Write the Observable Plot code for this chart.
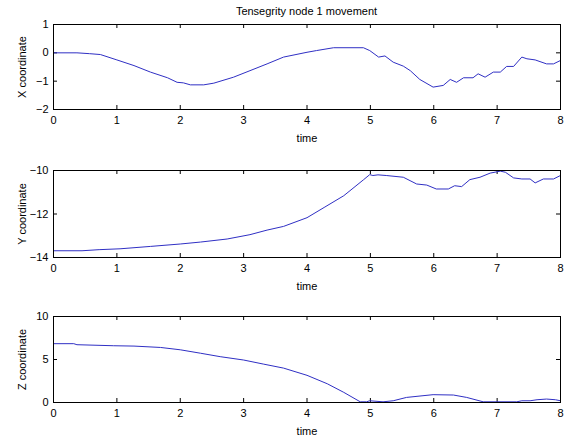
<!DOCTYPE html>
<html>
<head>
<meta charset="utf-8">
<script src="https://cdn.jsdelivr.net/npm/d3@7"></script>
<script src="https://cdn.jsdelivr.net/npm/@observablehq/plot@0.6"></script>
<style>
  html, body { margin: 0; padding: 0; background: #fff; }
  #wrap { position: relative; width: 566px; height: 438px; font-family: "Liberation Sans", Arial, sans-serif; }
  .pnl { position: absolute; left: 0; }
  #title { position: absolute; left: 53px; width: 507px; top: 5px; text-align: center; font-size: 11px; color: #000; }
</style>
</head>
<body>
<div id="wrap">
  <div id="title">Tensegrity node 1 movement</div>
</div>
<script>
const titleText = "Tensegrity node 1 movement";
const xTicks = [0, 1, 2, 3, 4, 5, 6, 7, 8];
const xLabel = "time";

// X coordinate panel
const tX = [0, 0.37, 0.57, 0.74, 1.0, 1.27, 1.53, 1.8, 1.95, 2.05, 2.16, 2.37, 2.53, 2.84, 3.1, 3.37, 3.63, 4.0, 4.15, 4.42, 4.89, 4.99, 5.13, 5.23, 5.36, 5.52, 5.63, 5.78, 5.99, 6.15, 6.26, 6.36, 6.47, 6.62, 6.7, 6.81, 6.94, 7.05, 7.15, 7.26, 7.39, 7.47, 7.6, 7.78, 7.89, 8.0];
const xVals = [0, 0, -0.03, -0.06, -0.25, -0.45, -0.68, -0.88, -1.04, -1.06, -1.13, -1.13, -1.07, -0.86, -0.63, -0.39, -0.15, 0.02, 0.08, 0.18, 0.18, 0.08, -0.15, -0.11, -0.33, -0.47, -0.63, -0.94, -1.21, -1.15, -0.94, -1.04, -0.88, -0.88, -0.74, -0.86, -0.68, -0.68, -0.48, -0.48, -0.15, -0.21, -0.25, -0.39, -0.39, -0.27];
const xTicksY = [-2, -1, 0, 1];

// Y coordinate panel
const tY = [0, 0.45, 0.72, 1.05, 1.53, 2.0, 2.32, 2.74, 3.1, 3.37, 3.63, 4.0, 4.27, 4.58, 4.89, 4.99, 5.04, 5.12, 5.25, 5.52, 5.73, 5.89, 6.04, 6.23, 6.33, 6.44, 6.57, 6.73, 6.89, 7.05, 7.13, 7.26, 7.39, 7.52, 7.6, 7.73, 7.89, 8.0];
const yVals = [-13.69, -13.69, -13.64, -13.6, -13.49, -13.38, -13.29, -13.15, -12.95, -12.74, -12.57, -12.17, -11.7, -11.16, -10.43, -10.19, -10.23, -10.2, -10.23, -10.31, -10.62, -10.67, -10.85, -10.85, -10.7, -10.74, -10.42, -10.31, -10.12, -10.03, -10.08, -10.34, -10.39, -10.39, -10.57, -10.39, -10.39, -10.23];
const yTicksY = [-14, -12, -10];

// Z coordinate panel
const tZ = [0, 0.32, 0.37, 0.95, 1.27, 1.69, 2.0, 2.32, 2.63, 3.0, 3.31, 3.63, 4.0, 4.32, 4.58, 4.84, 4.94, 4.99, 5.2, 5.36, 5.57, 5.83, 5.99, 6.31, 6.52, 6.78, 7.31, 7.39, 7.52, 7.63, 7.78, 7.92, 8.0];
const zVals = [6.84, 6.84, 6.72, 6.6, 6.56, 6.4, 6.13, 5.73, 5.33, 4.94, 4.47, 4.0, 3.16, 2.18, 1.18, 0.08, 0.08, 0.2, 0.08, 0.2, 0.59, 0.79, 0.91, 0.87, 0.59, 0.08, 0.08, 0.2, 0.2, 0.32, 0.4, 0.32, 0.2];
const zTicksY = [0, 5, 10];

const panels = [
  {t: tX, v: xVals, domain: [-2, 1], ticks: xTicksY, label: "X coordinate", top: 0, mb: 37},
  {t: tY, v: yVals, domain: [-14, -10], ticks: yTicksY, label: "Y coordinate", top: 146, mb: 35},
  {t: tZ, v: zVals, domain: [0, 10], ticks: zTicksY, label: "Z coordinate", top: 292, mb: 36}
];

const W = 566, H = 146, ML = 53, MR = 6, MT = 24;
const wrap = document.getElementById("wrap");
document.getElementById("title").textContent = titleText;

for (const p of panels) {
  const data = p.t.map((t, i) => ({t, v: p.v[i]}));
  const ph = H - MT - p.mb;
  const pw = W - ML - MR;
  const chart = Plot.plot({
    width: W, height: H,
    marginLeft: ML, marginRight: MR, marginTop: MT, marginBottom: p.mb,
    x: {domain: [0, 8]},
    y: {domain: p.domain},
    style: {fontFamily: "'Liberation Sans', Arial, sans-serif", fontSize: "11px", color: "#000", background: "transparent"},
    marks: [
      Plot.axisX(xTicks, {tickSize: 0, tickPadding: 7, label: xLabel, labelAnchor: "center", labelOffset: 32, labelArrow: "none"}),
      Plot.axisY(p.ticks, {tickSize: 0, tickPadding: 5, label: p.label, labelAnchor: "center", labelOffset: 35, labelArrow: "none"}),
      Plot.tickX(xTicks, {x: d => d, insetTop: ph - 4, stroke: "#000"}),
      Plot.tickX(xTicks, {x: d => d, insetBottom: ph - 4, stroke: "#000"}),
      Plot.tickY(p.ticks, {y: d => d, insetRight: pw - 4, stroke: "#000"}),
      Plot.tickY(p.ticks, {y: d => d, insetLeft: pw - 4, stroke: "#000"}),
      Plot.line(data, {x: "t", y: "v", stroke: "#2f2fc4", strokeWidth: 1}),
      Plot.frame({stroke: "#000"})
    ]
  });
  const div = document.createElement("div");
  div.className = "pnl";
  div.style.top = p.top + "px";
  div.appendChild(chart);
  wrap.appendChild(div);
}
</script>
</body>
</html>
